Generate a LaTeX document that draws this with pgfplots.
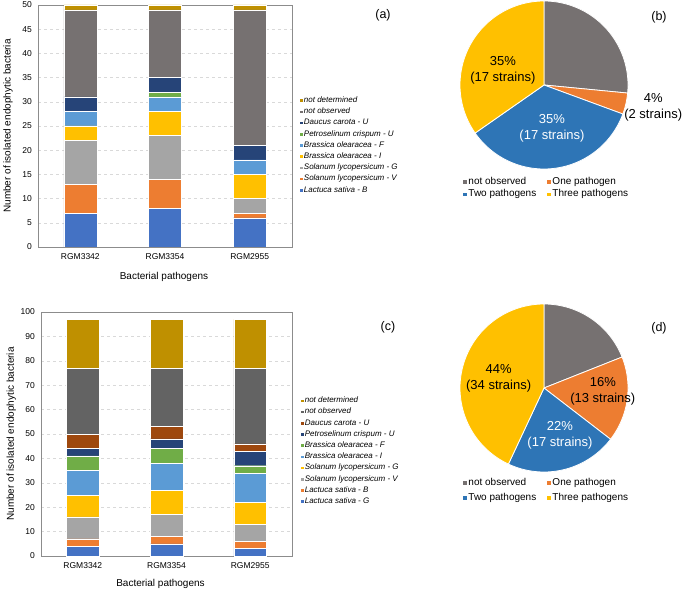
\documentclass[border=0pt]{standalone}
\usepackage{fontspec}
\setmainfont{Liberation Sans}
\usepackage{pgfplots}
\usepackage{pgfplotstable}
\pgfplotsset{compat=1.18}

\definecolor{cBlue}{HTML}{4472C4}
\definecolor{cOrange}{HTML}{ED7D31}
\definecolor{cGrey}{HTML}{A5A5A5}
\definecolor{cYellow}{HTML}{FFC000}
\definecolor{cLBlue}{HTML}{5B9BD5}
\definecolor{cGreen}{HTML}{70AD47}
\definecolor{cDBlue}{HTML}{264478}
\definecolor{cBrown}{HTML}{9E480E}
\definecolor{cNotObs}{HTML}{767171}
\definecolor{cNotObsC}{HTML}{636363}
\definecolor{cNotDet}{HTML}{BF9000}
\definecolor{cPieBlue}{HTML}{2E75B6}

% panel (a): counts per pathogen
\pgfplotstableread{
x B V G I F P D NO ND
0 7 6 9 3 3 0 3 18 1
1 8 6 9 5 3 1 3 14 1
2 6 1 3 5 3 0 3 28 1
}\tabA

% panel (c)
\pgfplotstableread{
x LG LB SV SG BI BF P D NO ND
0 4 3 9 9 10 6 3 6 27 20
1 5 3 9 10 11 6 4 5 24 20
2 3 3 7 9 12 3 6 3 31 20
}\tabC

\pgfplotsset{
  barax/.style={
    scale only axis, anchor=south west,
    ybar stacked, bar width=0.39,
    xmin=-0.5, xmax=2.5, ymin=0,
    xtick={0,1,2}, xticklabels={RGM3342,RGM3354,RGM2955},
    axis line style={draw=black!45},
    major tick length=0pt,
    ymajorgrids, grid style={dashed, black!15},
    tick label style={font=\fontsize{8.5}{10}\selectfont, inner sep=0pt},
    yticklabel style={xshift=-6pt},
    xticklabel style={yshift=-6pt},
    /pgf/number format/assume math mode=true,
    label style={font=\fontsize{10}{12}\selectfont},
    ylabel={Number of isolated endophytic bacteria},
    xlabel={Bacterial pathogens},
    ylabel style={at={(axis description cs:-0.118,0.5)}, anchor=center},
    reverse legend,
    legend cell align=left,
    legend style={draw=none, fill=none, anchor=north west,
      font=\fontsize{8}{9}\selectfont\itshape,
      inner sep=0pt, row sep=2.4pt,
      nodes={inner sep=0.6pt, text height=6pt, text depth=1.6pt}},
  },
  seg/.style={fill=#1, draw=white, line width=0.4pt,
    legend image code/.code={\path[fill=#1] (0pt,-1.8pt) rectangle (3.6pt,1.8pt);}},
  pieax/.style={
    scale only axis, anchor=south west, hide axis, clip=false,
    width=168pt, height=168pt,
    xmin=-1, xmax=1, ymin=-1, ymax=1,
    legend columns=2,
    legend cell align=left,
    legend style={draw=none, fill=none, anchor=north,
      font=\fontsize{10}{12}\selectfont,
      inner sep=0pt,
      nodes={inner sep=1pt, text height=7pt, text depth=2pt},
      /tikz/every even column/.append style={column sep=9pt}},
  },
  sq/.style={legend image code/.code={\path[fill=#1] (0pt,-2.2pt) rectangle (4.4pt,2.2pt);}},
}

% one pie slice: start count, count, total, colour
\newcommand{\pieslice}[4]{%
  \pgfmathsetmacro{\pa}{360/#3*#1}%
  \pgfmathsetmacro{\pb}{360/#3*(#1+#2)}%
  \edef\doslice{\noexpand\addplot[fill=#4, draw=white, line width=0.8pt, sq=#4,
    domain=\pa:\pb, samples=90, variable=\noexpand\t]}%
  \doslice ({sin(\t)},{cos(\t)}) -- (0,0) -- cycle;
}

\begin{document}
\begin{tikzpicture}
\path[use as bounding box] (0,0) rectangle (685pt,592pt);

% (a)
\begin{axis}[barax, at={(38pt,345pt)}, width=254pt, height=242pt,
  ymax=50, ytick={0,5,...,50},
  xlabel style={at={(axis description cs:0.496,-0.124)}, anchor=center},
  legend style={at={(1.028,0.625)}}]
\addplot[seg=cBlue] table[x=x,y=B]{\tabA}; \addlegendentry{Lactuca sativa - B}
\addplot[seg=cOrange] table[x=x,y=V]{\tabA}; \addlegendentry{Solanum lycopersicum - V}
\addplot[seg=cGrey] table[x=x,y=G]{\tabA}; \addlegendentry{Solanum lycopersicum - G}
\addplot[seg=cYellow] table[x=x,y=I]{\tabA}; \addlegendentry{Brassica olearacea - I}
\addplot[seg=cLBlue] table[x=x,y=F]{\tabA}; \addlegendentry{Brassica olearacea - F}
\addplot[seg=cGreen] table[x=x,y=P]{\tabA}; \addlegendentry{Petroselinum crispum - U}
\addplot[seg=cDBlue] table[x=x,y=D]{\tabA}; \addlegendentry{Daucus carota - U}
\addplot[seg=cNotObs] table[x=x,y=NO]{\tabA}; \addlegendentry{not observed}
\addplot[seg=cNotDet] table[x=x,y=ND]{\tabA}; \addlegendentry{not determined}
\end{axis}

% (c)
\begin{axis}[barax, at={(41pt,36pt)}, width=251pt, height=244pt,
  ymax=100, ytick={0,10,...,100},
  xlabel style={at={(axis description cs:0.476,-0.115)}, anchor=center},
  legend style={at={(1.032,0.656)}}]
\addplot[seg=cBlue] table[x=x,y=LG]{\tabC}; \addlegendentry{Lactuca sativa - G}
\addplot[seg=cOrange] table[x=x,y=LB]{\tabC}; \addlegendentry{Lactuca sativa - B}
\addplot[seg=cGrey] table[x=x,y=SV]{\tabC}; \addlegendentry{Solanum lycopersicum - V}
\addplot[seg=cYellow] table[x=x,y=SG]{\tabC}; \addlegendentry{Solanum lycopersicum - G}
\addplot[seg=cLBlue] table[x=x,y=BI]{\tabC}; \addlegendentry{Brassica olearacea - I}
\addplot[seg=cGreen] table[x=x,y=BF]{\tabC}; \addlegendentry{Brassica olearacea - F}
\addplot[seg=cDBlue] table[x=x,y=P]{\tabC}; \addlegendentry{Petroselinum crispum - U}
\addplot[seg=cBrown] table[x=x,y=D]{\tabC}; \addlegendentry{Daucus carota - U}
\addplot[seg=cNotObsC] table[x=x,y=NO]{\tabC}; \addlegendentry{not observed}
\addplot[seg=cNotDet] table[x=x,y=ND]{\tabC}; \addlegendentry{not determined}
\end{axis}

% (b) pie: 13 not observed, 2 one, 17 two, 17 three
\begin{axis}[pieax, at={(460pt,423pt)},
  legend style={at={(0.51,-0.042)}, row sep=1.4pt}]
\pieslice{0}{13}{49}{cNotObs}
\pieslice{13}{2}{49}{cOrange}
\pieslice{15}{17}{49}{cPieBlue}
\pieslice{32}{17}{49}{cYellow}
\legend{not observed, One pathogen, Two pathogens, Three pathogens}
\node[font=\fontsize{13}{16}\selectfont, align=center] at (axis cs:-0.49,0.18) {35\%\\(17 strains)};
\node[font=\fontsize{13}{16}\selectfont, align=center, text=white] at (axis cs:0.095,-0.51) {35\%\\(17 strains)};
\node[font=\fontsize{13}{16}\selectfont, align=center] at (axis cs:1.30,-0.26) {4\%\\(2 strains)};
\end{axis}

% (d) pie: 15 not observed, 13 one, 17 two, 34 three
\begin{axis}[pieax, at={(460pt,120pt)},
  legend style={at={(0.51,-0.03)}, row sep=4pt}]
\pieslice{0}{15}{79}{cNotObs}
\pieslice{15}{13}{79}{cOrange}
\pieslice{28}{17}{79}{cPieBlue}
\pieslice{45}{34}{79}{cYellow}
\legend{not observed, One pathogen, Two pathogens, Three pathogens}
\node[font=\fontsize{13}{16}\selectfont, align=center] at (axis cs:-0.54,0.12) {44\%\\(34 strains)};
\node[font=\fontsize{13}{16}\selectfont, align=center] at (axis cs:0.70,-0.04) {16\%\\(13 strains)};
\node[font=\fontsize{13}{16}\selectfont, align=center, text=white] at (axis cs:0.19,-0.56) {22\%\\(17 strains)};
\end{axis}

\node[font=\fontsize{12.5}{15}\selectfont] at (383pt,577pt) {(a)};
\node[font=\fontsize{12.5}{15}\selectfont] at (659pt,575pt) {(b)};
\node[font=\fontsize{12.5}{15}\selectfont] at (388pt,265pt) {(c)};
\node[font=\fontsize{12.5}{15}\selectfont] at (659pt,264pt) {(d)};
\end{tikzpicture}
\end{document}
